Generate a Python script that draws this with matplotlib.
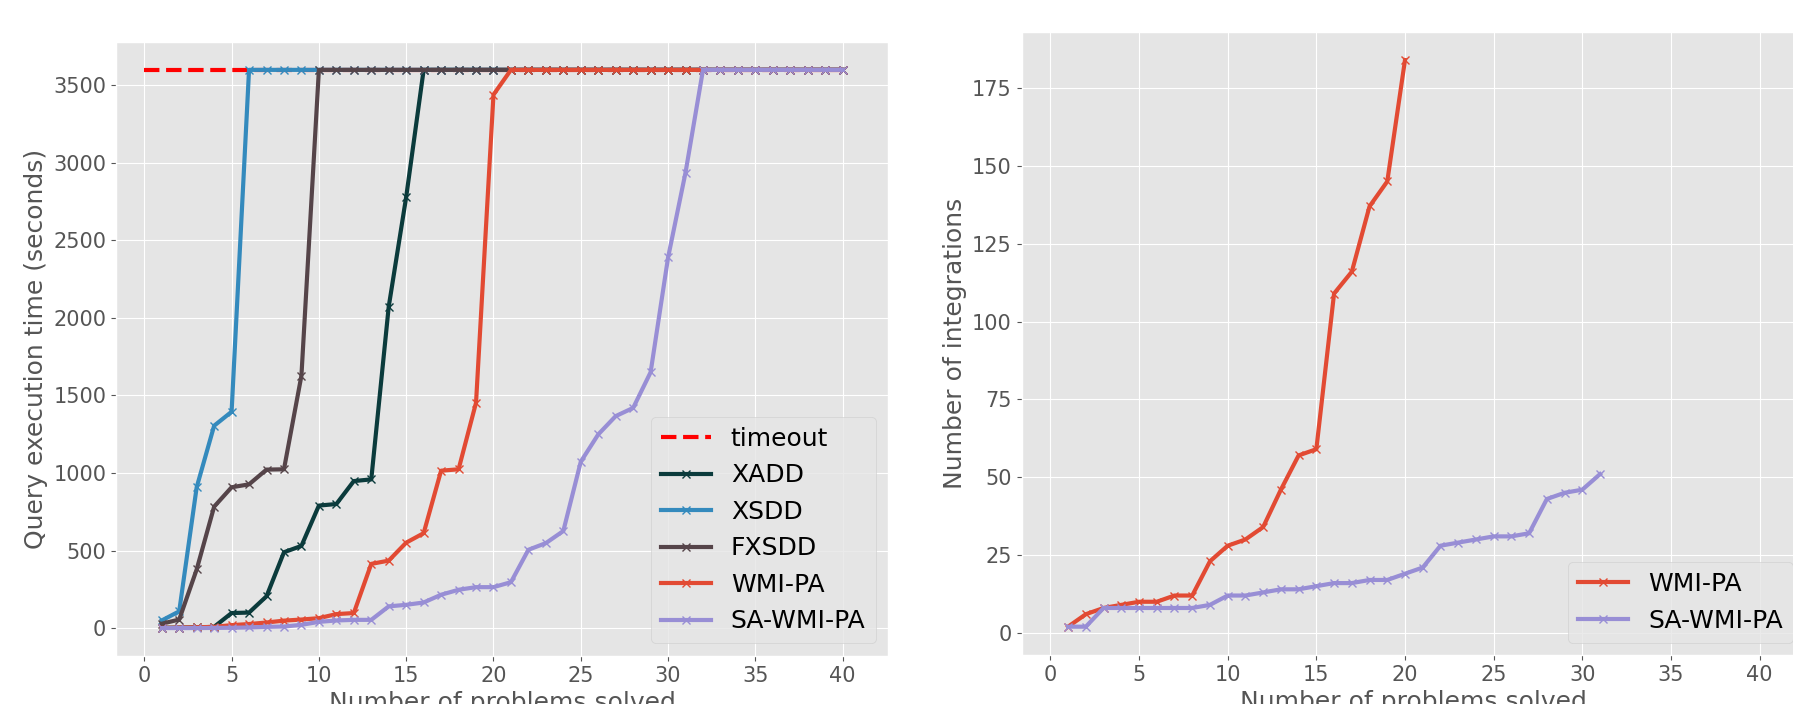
import matplotlib
matplotlib.use("Agg")
import matplotlib.pyplot as plt

plt.style.use("ggplot")

# problems solved (x) for the cactus plot
problems = list(range(1, 41))
timeout_x = [0, 40]
timeout_y = [3600, 3600]

# query execution time (seconds), sorted, unsolved capped at timeout
xadd = [2, 3, 4, 8, 97, 100, 205, 489, 530, 790, 800, 948, 959, 2073, 2780,
        3600, 3600, 3600, 3600, 3600, 3600, 3600, 3600, 3600, 3600, 3600, 3600, 3600,
        3600, 3600, 3600, 3600, 3600, 3600, 3600, 3600, 3600, 3600, 3600, 3600]
xsdd = [49, 108, 908, 1305, 1395,
        3600, 3600, 3600, 3600, 3600, 3600, 3600, 3600, 3600, 3600, 3600, 3600, 3600,
        3600, 3600, 3600, 3600, 3600, 3600, 3600, 3600, 3600, 3600, 3600, 3600, 3600,
        3600, 3600, 3600, 3600, 3600, 3600, 3600, 3600, 3600]
fxsdd = [28, 55, 378, 783, 908, 927, 1022, 1024, 1628,
         3600, 3600, 3600, 3600, 3600, 3600, 3600, 3600, 3600, 3600, 3600, 3600, 3600,
         3600, 3600, 3600, 3600, 3600, 3600, 3600, 3600, 3600, 3600, 3600, 3600, 3600,
         3600, 3600, 3600, 3600, 3600]
wmipa = [1, 3, 5, 8, 19, 26, 36, 48, 55, 64, 90, 97, 414, 435, 551, 612, 1015, 1024,
         1453, 3440,
         3600, 3600, 3600, 3600, 3600, 3600, 3600, 3600, 3600, 3600, 3600, 3600, 3600,
         3600, 3600, 3600, 3600, 3600, 3600, 3600]
sawmipa = [0, 0, 0, 1, 2, 4, 8, 10, 21, 40, 49, 53, 53, 140, 150, 165, 215, 247,
           264, 264, 296, 505, 548, 626, 1073, 1249, 1367, 1420, 1650, 2390, 2938,
           3600, 3600, 3600, 3600, 3600, 3600, 3600, 3600, 3600]

# number of integrations
int_wmipa = [2, 6, 8, 9, 10, 10, 12, 12, 23, 28, 30, 34, 46, 57, 59, 109, 116, 137,
             145, 184]
int_sawmipa = [2, 2, 8, 8, 8, 8, 8, 8, 9, 12, 12, 13, 14, 14, 15, 16, 16, 17, 17, 19,
               21, 28, 29, 30, 31, 31, 32, 43, 45, 46, 51]

c_xadd = "#0b3b3c"
c_xsdd = "#348ABD"
c_fxsdd = "#554449"
c_wmipa = "#E24A33"
c_sawmipa = "#988ED5"

fig = plt.figure(figsize=(17.93, 7.04), dpi=100)
ax1 = fig.add_axes([0.0647, 0.0682, 0.4306, 0.8722])
ax2 = fig.add_axes([0.5698, 0.0696, 0.4373, 0.8854])

lw = 3
ax1.plot(timeout_x, timeout_y, "--", color="red", lw=lw, label="timeout")
ax1.plot(problems, xadd, marker="x", color=c_xadd, lw=lw, label="XADD")
ax1.plot(problems, xsdd, marker="x", color=c_xsdd, lw=lw, label="XSDD")
ax1.plot(problems, fxsdd, marker="x", color=c_fxsdd, lw=lw, label="FXSDD")
ax1.plot(problems, wmipa, marker="x", color=c_wmipa, lw=lw, label="WMI-PA")
ax1.plot(problems, sawmipa, marker="x", color=c_sawmipa, lw=lw, label="SA-WMI-PA")
ax1.set_xlim(-1.62, 42.6)
ax1.set_xlabel("Number of problems solved", fontsize=18)
ax1.set_ylabel("Query execution time (seconds)", fontsize=18)
ax1.legend(loc="lower right", fontsize=18)

ax2.plot(range(1, len(int_wmipa) + 1), int_wmipa, marker="x", color=c_wmipa, lw=lw,
         label="WMI-PA")
ax2.plot(range(1, len(int_sawmipa) + 1), int_sawmipa, marker="x", color=c_sawmipa,
         lw=lw, label="SA-WMI-PA")
ax2.set_xlim(-1.62, 42.6)
ax2.set_xticks(range(0, 41, 5))
ax2.set_xlabel("Number of problems solved", fontsize=18)
ax2.set_ylabel("Number of integrations", fontsize=18)
ax2.legend(loc="lower right", fontsize=18)

for ax in (ax1, ax2):
    ax.tick_params(labelsize=15)

fig.savefig("out.png", dpi=100)
